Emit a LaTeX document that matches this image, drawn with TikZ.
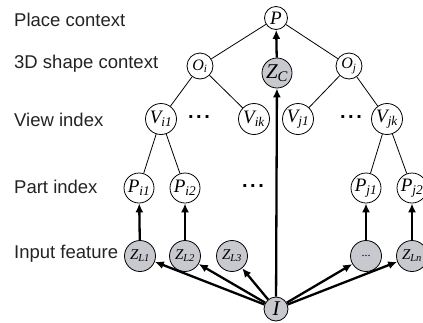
\documentclass[tikz,border=0pt]{standalone}
\usepackage{fontspec}
\setmainfont{Liberation Sans}
\newfontfamily\nodefont{Liberation Serif}
\usetikzlibrary{arrows.meta}
\definecolor{obsgray}{RGB}{200,201,206}
\definecolor{labelgray}{RGB}{35,35,35}
\newcommand\sbx[1]{\textsubscript{#1}}
\newcommand\spdots{.\hspace{2.5pt}.\hspace{2.5pt}.}
\begin{document}
\begin{tikzpicture}[x=1pt,y=-1pt,
  lab/.style={anchor=west, inner sep=0, text=labelgray, font=\fontsize{18.5}{20}\selectfont},
  hid/.style={circle, draw=black, line width=0.8pt, fill=white, inner sep=0, font=\nodefont\itshape\fontsize{19}{19}\selectfont},
  obs/.style={hid, fill=obsgray},
  thinedge/.style={line width=0.8pt},
  thickarr/.style={line width=2.3pt, -{Latex[length=9pt,width=8pt]}},
  dotsnode/.style={inner sep=0, font=\bfseries\fontsize{20}{20}\selectfont}
]
\clip (0,0) rectangle (423,322);
\useasboundingbox (0,0) rectangle (423,322);
% labels
\node[lab] (l1) at (14,20) {Place context};
\node[lab] (l2) at (14,64) {3D shape context};
\node[lab] (l3) at (14,120) {View index};
\node[lab] (l4) at (14,187) {Part index};
\node[lab] (l5) at (14,254) {Input feature};
% nodes
\node[hid, minimum size=23pt] (P) at (276,18) {P};
\node[hid, minimum size=26pt, font=\nodefont\itshape\fontsize{16}{16}\selectfont] (Oi) at (200,66) {O\sbx{i}};
\node[hid, minimum size=26pt, font=\nodefont\itshape\fontsize{16}{16}\selectfont] (Oj) at (349,66) {O\sbx{j}};
\node[obs, minimum size=30pt, font=\nodefont\itshape\fontsize{21}{21}\selectfont] (ZC) at (277,73) {Z\sbx{C}};
\node[hid, minimum size=31pt] (Vi1) at (161,119) {V\sbx{i1}};
\node[hid, minimum size=31pt] (Vik) at (254,119) {V\sbx{ik}};
\node[hid, minimum size=31pt] (Vj1) at (298,119) {V\sbx{j1}};
\node[hid, minimum size=31pt] (Vjk) at (387,119) {V\sbx{jk}};
\node[dotsnode] (d1) at (199,117) {\spdots};
\node[dotsnode] (d2) at (351,117) {\spdots};
\node[hid, minimum size=30pt] (Pi1) at (139,188) {P\sbx{i1}};
\node[hid, minimum size=30pt] (Pi2) at (185,188) {P\sbx{i2}};
\node[dotsnode] (d3) at (253,186) {\spdots};
\node[hid, minimum size=30pt] (Pj1) at (366,188) {P\sbx{j1}};
\node[hid, minimum size=30pt] (Pj2) at (412,188) {P\sbx{j2}};
\node[obs, minimum size=31pt, font=\nodefont\itshape\fontsize{15}{15}\selectfont] (ZL1) at (140,256) {Z\sbx{L1}};
\node[obs, minimum size=31pt, font=\nodefont\itshape\fontsize{15}{15}\selectfont] (ZL2) at (185,256) {Z\sbx{L2}};
\node[obs, minimum size=31pt, font=\nodefont\itshape\fontsize{15}{15}\selectfont] (ZL3) at (232,256) {Z\sbx{L3}};
\node[obs, minimum size=31pt, font=\nodefont\fontsize{12}{12}\selectfont] (ZLd) at (366,256) {...};
\node[obs, minimum size=31pt, font=\nodefont\itshape\fontsize{15}{15}\selectfont] (ZLn) at (412,256) {Z\sbx{Ln}};
\node[obs, minimum size=24pt, font=\nodefont\itshape\fontsize{21}{21}\selectfont] (I) at (276,309) {I};
% thin edges
\draw[thinedge] (P) -- (Oi);
\draw[thinedge] (P) -- (Oj);
\draw[thinedge] (Oi) -- (Vi1);
\draw[thinedge] (Oi) -- (Vik);
\draw[thinedge] (Oj) -- (Vj1);
\draw[thinedge] (Oj) -- (Vjk);
\draw[thinedge] (Vi1) -- (Pi1);
\draw[thinedge] (Vi1) -- (Pi2);
\draw[thinedge] (Vjk) -- (Pj1);
\draw[thinedge] (Vjk) -- (Pj2);
% thick arrows
\draw[thickarr] (ZC) -- (P);
\draw[thickarr] (I) -- (ZC);
\draw[thickarr] (ZL1) -- (Pi1);
\draw[thickarr] (ZL2) -- (Pi2);
\draw[thickarr] (ZLd) -- (Pj1);
\draw[thickarr] (ZLn) -- (Pj2);
\draw[thickarr] (I) -- (ZL1);
\draw[thickarr] (I) -- (ZL2);
\draw[thickarr] (I) -- (ZL3);
\draw[thickarr] (I) -- (ZLd);
\draw[thickarr] (I) -- (ZLn);
\end{tikzpicture}
\end{document}
